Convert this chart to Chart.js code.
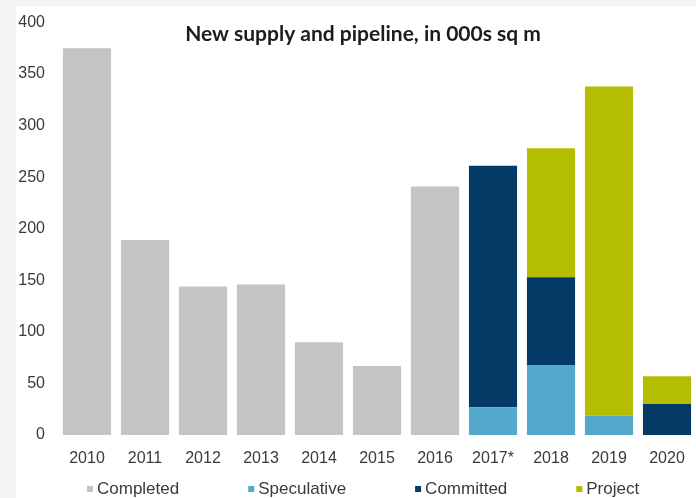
<!DOCTYPE html>
<html>
<head>
<meta charset="utf-8">
<script src="https://cdn.jsdelivr.net/npm/chart.js@4/dist/chart.umd.min.js"></script>
<style>
  html, body { margin: 0; padding: 0; width: 696px; height: 498px; overflow: hidden; background: #f3f3f3; }
  #frame { position: absolute; left: 16px; top: 6px; width: 680px; height: 492px; background: #ffffff; }
  canvas { display: block; }
</style>
</head>
<body>
<div id="frame"><canvas id="supply" width="680" height="492"></canvas></div>
<script>
// Years on the category axis (2017 marked as estimate)
const years = ['2010', '2011', '2012', '2013', '2014', '2015', '2016', '2017*', '2018', '2019', '2020'];

// New supply, thousand sq m
const completed   = [375, 189, 144, 146, 90, 67, 241, null, null, null, null];
const speculative = [null, null, null, null, null, null, null, 27, 68, 19, null];
const committed   = [null, null, null, null, null, null, null, 234, 85, null, 30];
const project     = [null, null, null, null, null, null, null, null, 125, 319, 27];

// Value axis range and tick spacing
const yMin = 0;
const yMax = 400;
const yStep = 50;

const chartTitle = 'New supply and pipeline, in 000s sq m';

const TEXT_FONT = '"Liberation Sans", Arial, sans-serif';

// Title inside the plot and a widely spaced key below the axis
const headerAndKey = {
  id: 'headerAndKey',
  afterDraw(chart) {
    const { ctx, chartArea, scales } = chart;
    ctx.save();
    ctx.font = 'bold 21px Lato, "Open Sans", sans-serif';
    ctx.fillStyle = '#1c1c1c';
    ctx.textAlign = 'center';
    ctx.textBaseline = 'alphabetic';
    ctx.fillText(chartTitle, (chartArea.left + chartArea.right) / 2 - 14, chartArea.top + 18);

    ctx.font = '17px ' + TEXT_FONT;
    ctx.textAlign = 'left';
    ctx.textBaseline = 'middle';
    let kx = scales.x.getPixelForValue(0);
    const ky = chart.height - 9;
    chart.data.datasets.forEach(ds => {
      ctx.fillStyle = ds.backgroundColor;
      ctx.fillRect(kx, ky - 3, 6, 6);
      ctx.fillStyle = '#3a3a3a';
      ctx.fillText(ds.label, kx + 10, ky);
      kx += 10 + ctx.measureText(ds.label).width + 69;
    });
    ctx.restore();
  }
};

new Chart(document.getElementById('supply'), {
  type: 'bar',
  data: {
    labels: years,
    datasets: [
      { label: 'Completed',   data: completed,   backgroundColor: '#c4c4c4' },
      { label: 'Speculative', data: speculative, backgroundColor: '#55a8cd' },
      { label: 'Committed',   data: committed,   backgroundColor: '#053a66' },
      { label: 'Project',     data: project,     backgroundColor: '#b4bd00' }
    ]
  },
  options: {
    responsive: false,
    animation: false,
    devicePixelRatio: 1,
    datasets: {
      bar: { barPercentage: 0.83, categoryPercentage: 1.0, borderWidth: 0 }
    },
    layout: { autoPadding: false, padding: { left: 2, right: 0, top: 16.5, bottom: 29 } },
    plugins: {
      legend: { display: false },
      title: { display: false },
      tooltip: { enabled: false }
    },
    scales: {
      x: {
        stacked: true,
        grid: { display: false, drawTicks: false },
        border: { display: false },
        afterFit(scale) {
          scale.height = 34;
          scale.paddingLeft = 0;
          scale.paddingRight = 0;
        },
        ticks: {
          padding: 14,
          color: '#3a3a3a',
          font: { family: TEXT_FONT, size: 16 },
          maxRotation: 0,
          autoSkip: false
        }
      },
      y: {
        stacked: true,
        min: yMin,
        max: yMax,
        grid: { display: false, drawTicks: false },
        border: { display: false },
        afterFit(scale) {
          scale.width = 40;
          scale.paddingTop = 0;
          scale.paddingBottom = 0;
        },
        ticks: {
          stepSize: yStep,
          padding: 13,
          color: '#3a3a3a',
          font: { family: TEXT_FONT, size: 16 }
        }
      }
    }
  },
  plugins: [headerAndKey]
});
</script>
</body>
</html>
